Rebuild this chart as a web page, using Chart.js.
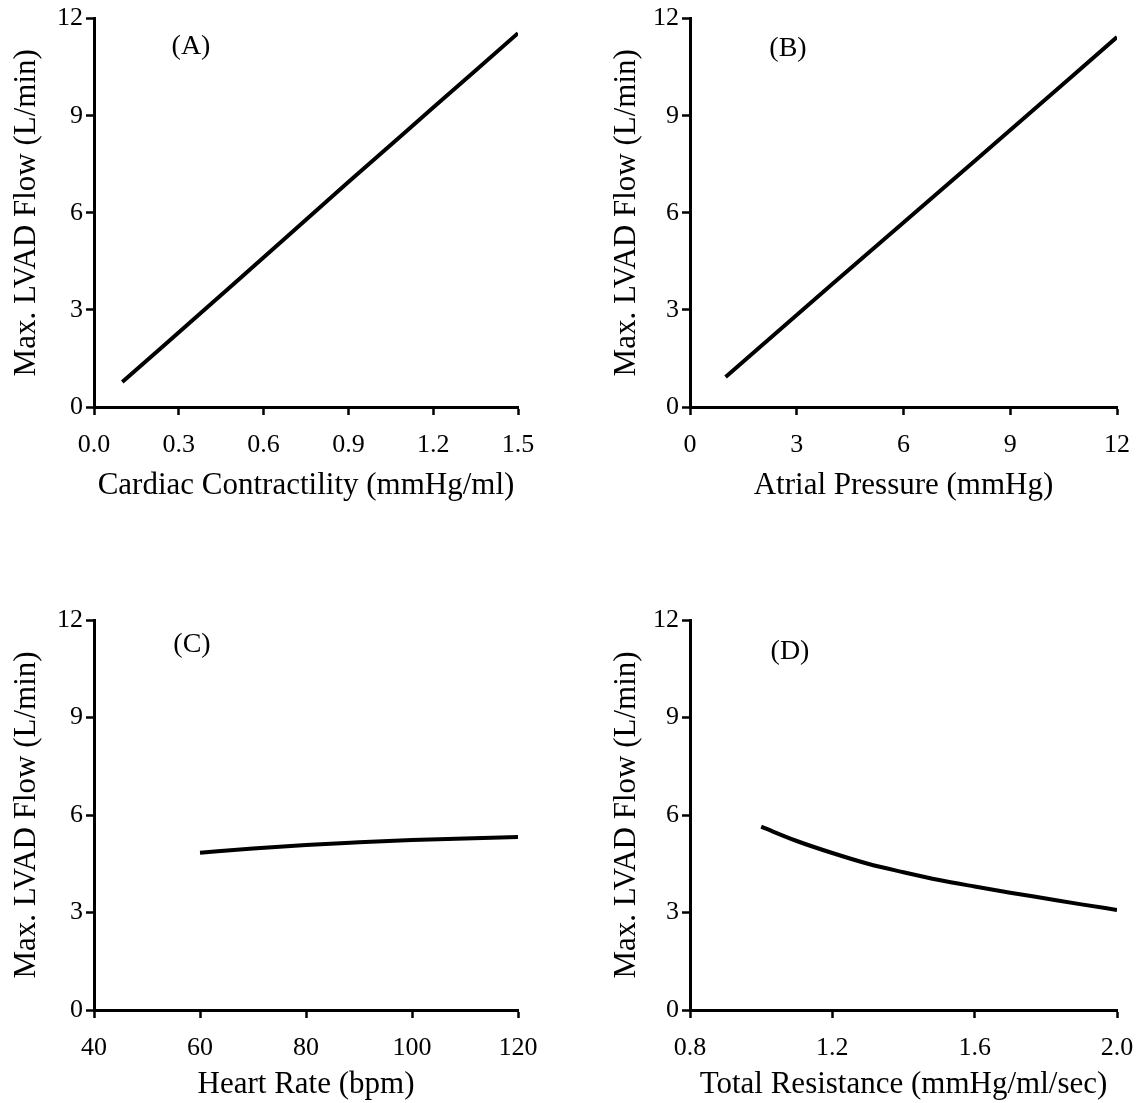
<!DOCTYPE html>
<html>
<head>
<meta charset="utf-8">
<script src="https://cdn.jsdelivr.net/npm/chart.js@4"></script>
<style>
  body { margin: 0; background: #fff; }
  .panel { position: absolute; }
</style>
</head>
<body>
<div class="panel" style="left:0;top:0;width:570px;height:504px"><canvas id="chartA"></canvas></div>
<div class="panel" style="left:570px;top:0;width:570px;height:504px"><canvas id="chartB"></canvas></div>
<div class="panel" style="left:0;top:560px;width:570px;height:543px"><canvas id="chartC"></canvas></div>
<div class="panel" style="left:570px;top:560px;width:570px;height:543px"><canvas id="chartD"></canvas></div>
<script>
// data
const contractility = [0.1, 0.5, 0.9, 1.2, 1.5];
const flowA = [0.77, 3.85, 6.95, 9.25, 11.55];

const atrialPressure = [1, 4, 8, 12];
const flowB = [0.93, 3.8, 7.6, 11.43];

const heartRate = [60, 70, 80, 90, 100, 110, 120];
const flowC = [4.84, 4.97, 5.08, 5.16, 5.23, 5.28, 5.32];

const resistance = [1.0, 1.1, 1.2, 1.3, 1.4, 1.5, 1.6, 1.7, 1.8, 1.9, 2.0];
const flowD = [5.64, 5.2, 4.83, 4.5, 4.24, 4.0, 3.8, 3.61, 3.43, 3.25, 3.08];

const yTitle = 'Max. LVAD Flow (L/min)';
const serif = '"Liberation Serif", "Times New Roman", serif';

const panelLabel = {
    id: 'panelLabel',
    afterDraw(chart, args, opts) {
        const ctx = chart.ctx;
        const area = chart.chartArea;
        ctx.save();
        ctx.font = '28px ' + serif;
        ctx.fillStyle = '#000';
        ctx.textAlign = 'center';
        ctx.textBaseline = 'middle';
        ctx.fillText(opts.text, area.left + opts.dx, area.top + opts.dy);
        ctx.restore();
    }
};

function setupChart(id, xs, ys, cfg) {
    const el = document.getElementById(id);
    const w = el.parentNode.clientWidth, h = el.parentNode.clientHeight;
    const points = xs.map((x, i) => ({x: x, y: ys[i]}));
    return new Chart(el.getContext('2d'), {
        type: 'line',
        data: {
            datasets: [{
                data: points,
                borderColor: '#000',
                borderWidth: 4,
                pointRadius: 0,
                cubicInterpolationMode: 'monotone',
                fill: false
            }]
        },
        options: {
            responsive: true,
            maintainAspectRatio: false,
            animation: false,
            layout: {padding: {left: 0, top: cfg.top, right: w - cfg.right, bottom: 0}},
            plugins: {
                legend: {display: false},
                tooltip: {enabled: false},
                panelLabel: {text: cfg.label, dx: cfg.labelDx, dy: cfg.labelDy}
            },
            scales: {
                x: {
                    type: 'linear',
                    min: cfg.xMin,
                    max: cfg.xMax,
                    afterFit: s => {
                        s.height = h - cfg.bottom;
                        s.paddingLeft = 0;
                        s.paddingRight = 0;
                    },
                    afterBuildTicks: s => {
                        s.ticks = cfg.xTicks.map(v => ({value: v}));
                    },
                    grid: {drawOnChartArea: false, drawTicks: true, tickLength: 8, tickWidth: 2.5, tickColor: '#000'},
                    border: {display: true, color: '#000', width: 3},
                    ticks: {
                        color: '#000',
                        padding: 15,
                        maxRotation: 0,
                        font: {family: serif, size: 26},
                        callback: v => cfg.xDec ? v.toFixed(cfg.xDec) : String(v)
                    },
                    title: {
                        display: true,
                        text: cfg.xTitle,
                        color: '#000',
                        font: {family: serif, size: 31},
                        padding: {top: 0, bottom: cfg.xTitlePad}
                    }
                },
                y: {
                    min: 0,
                    max: 12,
                    afterFit: s => { s.width = cfg.left; },
                    grid: {drawOnChartArea: false, drawTicks: true, tickLength: 8, tickWidth: 2.5, tickColor: '#000'},
                    border: {display: true, color: '#000', width: 3},
                    ticks: {
                        stepSize: 3,
                        color: '#000',
                        padding: 3,
                        font: {family: serif, size: 26}
                    },
                    title: {
                        display: true,
                        text: yTitle,
                        color: '#000',
                        font: {family: serif, size: 31},
                        padding: {top: cfg.yTitlePad, bottom: 0}
                    }
                }
            }
        },
        plugins: [panelLabel]
    });
}

setupChart('chartA', contractility, flowA, {
    left: 94, right: 518, top: 18, bottom: 407,
    xMin: 0, xMax: 1.5, xTicks: [0, 0.3, 0.6, 0.9, 1.2, 1.5], xDec: 1,
    xTitle: 'Cardiac Contractility (mmHg/ml)', xTitlePad: 0, yTitlePad: 8,
    label: '(A)', labelDx: 97, labelDy: 28
});
setupChart('chartB', atrialPressure, flowB, {
    left: 120, right: 547, top: 18, bottom: 407,
    xMin: 0, xMax: 12, xTicks: [0, 3, 6, 9, 12], xDec: 0,
    xTitle: 'Atrial Pressure (mmHg)', xTitlePad: 0, yTitlePad: 38,
    label: '(B)', labelDx: 98, labelDy: 30
});
setupChart('chartC', heartRate, flowC, {
    left: 94, right: 518, top: 60, bottom: 450,
    xMin: 40, xMax: 120, xTicks: [40, 60, 80, 100, 120], xDec: 0,
    xTitle: 'Heart Rate (bpm)', xTitlePad: 0, yTitlePad: 8,
    label: '(C)', labelDx: 98, labelDy: 25
});
setupChart('chartD', resistance, flowD, {
    left: 120, right: 547, top: 60, bottom: 450,
    xMin: 0.8, xMax: 2.0, xTicks: [0.8, 1.2, 1.6, 2.0], xDec: 1,
    xTitle: 'Total Resistance (mmHg/ml/sec)', xTitlePad: 0, yTitlePad: 38,
    label: '(D)', labelDx: 100, labelDy: 32
});
</script>
</body>
</html>
